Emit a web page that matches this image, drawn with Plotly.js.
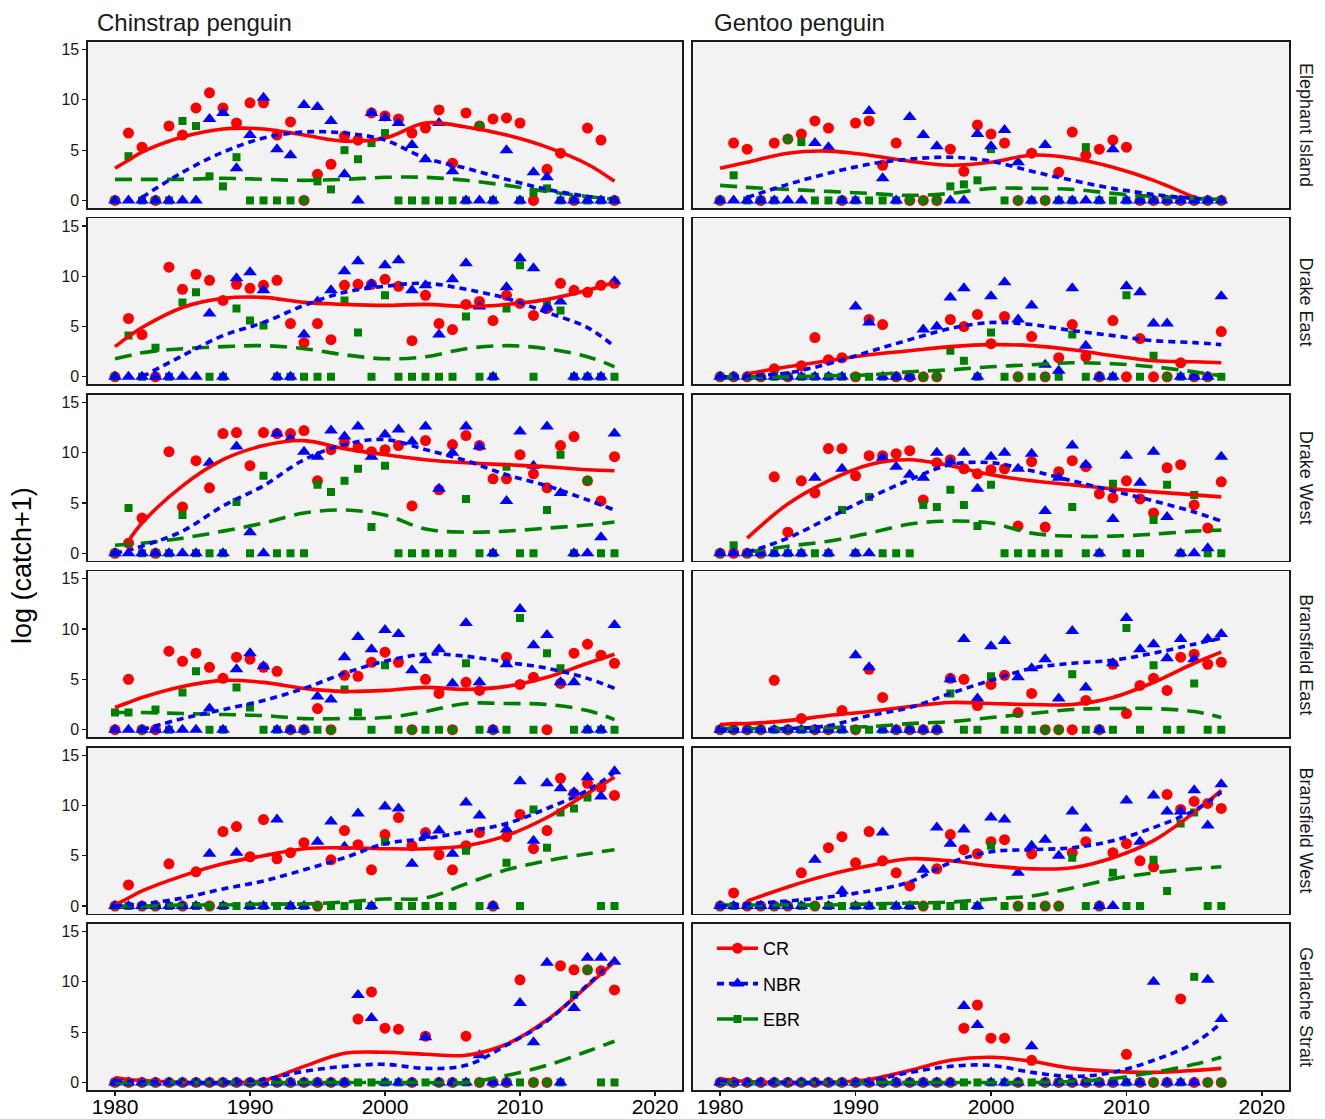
<!DOCTYPE html>
<html>
<head>
<meta charset="utf-8">
<script src="https://cdn.plot.ly/plotly-3.0.1.min.js"></script>
<style>
  html, body { margin: 0; padding: 0; background: #ffffff; }
  #chart { width: 1325px; height: 1119px; }
</style>
</head>
<body>
<div id="chart"></div>
<script>
// Survey years (one point per year and series)
const YEARS = [1980, 1981, 1982, 1983, 1984, 1985, 1986, 1987, 1988, 1989,
               1990, 1991, 1992, 1993, 1994, 1995, 1996, 1997, 1998, 1999,
               2000, 2001, 2002, 2003, 2004, 2005, 2006, 2007, 2008, 2009,
               2010, 2011, 2012, 2013, 2014, 2015, 2016, 2017];
// Years at which the smoothed trend curves are tabulated
const FIT_YEARS = [1980, 1981, 1982, 1985, 1988, 1991, 1994, 1997, 2000, 2003, 2006, 2009, 2012, 2015, 2017];

const SPECIES = ['Chinstrap penguin', 'Gentoo penguin'];
const REGIONS = ['Elephant Island', 'Drake East', 'Drake West', 'Bransfield East', 'Bransfield West', 'Gerlache Strait'];
const SERIES = ['CR', 'NBR', 'EBR'];
const X_TICKS = [1980, 1990, 2000, 2010, 2020];
const Y_TICKS = [0, 5, 10, 15];

// ---- Chinstrap penguin ----
const chinElephantCR  = [0, 6.7, 5.3, 0, 7.4, 6.5, 9.2, 10.7, 9.2, 7.7, 9.7, 9.7, 6.5, 7.8, 0, 2.6, 3.6, 6.4, 6.0, 8.7, 8.4, 8.1, 6.7, 7.2, 9.0, 3.7, 8.7, 7.4, 8.1, 8.2, 7.7, 0, 3.1, 4.7, 0, 7.2, 6.0, 0];
const chinElephantNBR = [0, 0, 0, 0, 0, 0, 0, 8.1, 8.7, 3.2, 6.5, 10.2, 5.1, 4.5, 9.5, 9.3, 7.9, 2.6, 0, 8.7, 8.2, 7.7, 5.5, 4.1, 7.7, 2.9, 0, 0, 0, 5.0, 0, 2.8, 2.3, 0, 0, 0, 0, 0];
const chinElephantEBR = [0, 4.4, 0, 0, 0, 7.9, 7.4, 2.4, 1.4, 4.3, 0, 0, 0, 0, 0, 1.9, 1.1, 5.0, 4.1, 5.7, 6.7, 0, 0, 0, 0, 0, 0, 7.4, 0, null, 0, 0.8, 1.2, 0, 0, 0, 0, 0];
const chinElephantCRFit  = [3.2, 4.0, 4.8, 6.3, 7.1, 7.1, 6.5, 5.9, 6.2, 7.7, 7.3, 6.5, 5.3, 3.6, 1.9];
const chinElephantNBRFit = [null, null, 0.3, 2.8, 4.8, 6.2, 6.8, 6.7, 6.0, 4.2, 3.2, 2.1, 1.1, 0.4, 0.1];
const chinElephantEBRFit = [2.1, 2.1, 2.1, 2.1, 2.2, 2.1, 2.0, 2.1, 2.3, 2.3, 2.0, 1.5, 0.9, 0.4, 0.1];

const chinDrakeECR  = [0, 5.8, 4.2, 0, 10.9, 8.7, 10.2, 9.6, 7.6, 9.2, 8.8, 9.1, 9.6, 5.3, 3.4, 5.3, 3.7, 9.1, 9.2, 9.2, 9.7, 9.0, 3.6, 8.1, 5.3, 4.7, 7.2, 7.5, 5.6, 8.1, 7.3, 6.1, 6.8, 9.3, 8.6, 8.4, 9.1, 9.3];
const chinDrakeENBR = [0, 0, 0, 0, 0, 0, 0, 6.3, 0, 9.8, 10.4, 8.6, 0, 0, 4.2, 7.5, 8.6, 10.5, 11.5, 9.2, 11.1, 11.6, 8.6, 9.1, 4.2, 9.7, 11.3, 7.0, 0, 8.9, 11.8, 10.8, 6.9, 7.5, 0, 0, 0, 9.5];
const chinDrakeEEBR = [0, 4.1, 0, 2.9, 0, 7.4, 8.4, 0, 0, 6.8, 5.6, 5.1, 0, 0, 0, 0, 0, 7.6, 4.4, 0, 8.1, 0, 0, 0, 0, 0, 6.0, 0, 0, 6.8, 11.1, 0, 7.4, 6.6, 0, 0, 0, 0];
const chinDrakeECRFit  = [3.0, 4.0, 4.9, 6.9, 7.8, 7.9, 7.4, 7.2, 7.1, 7.2, 7.0, 7.2, 7.7, 8.6, 9.4];
const chinDrakeENBRFit = [null, null, 0.0, 2.1, 4.1, 5.4, 7.1, 8.4, 9.0, 9.3, 8.7, 7.8, 6.4, 4.9, 3.0];
const chinDrakeEEBRFit = [1.8, 2.1, 2.4, 2.8, 3.0, 3.1, 2.8, 2.2, 1.8, 2.0, 2.8, 3.1, 2.8, 2.0, 1.0];

const chinDrakeWCR  = [0, 1.0, 3.5, 0, 10.1, 4.6, 9.2, 6.5, 11.9, 12.0, 8.7, 12.0, 11.9, 11.9, 12.2, 7.2, 10.3, 11.0, 10.5, 10.1, 10.3, 10.7, 4.7, 11.2, 6.3, 10.8, 11.7, 10.7, 7.4, 7.4, 9.8, 7.9, 6.5, 10.7, 11.6, 7.2, 5.2, 9.6];
const chinDrakeWNBR = [0, 0, 0, 0, 0, 0, 0, 9.0, 0, 10.6, 2.1, 0, 11.9, 11.4, 10.1, 9.6, 12.2, 11.6, 12.6, 9.6, 11.8, 12.3, 11.1, 12.6, 6.4, 10.0, 12.6, 10.6, 0, 5.2, 12.1, 8.7, 12.6, 6.0, 0, 0, 1.6, 11.9];
const chinDrakeWEBR = [0, 4.5, 0, 0, 0, 3.8, 0, 0, 0, 5.1, 0, 7.7, 0, 0, 0, 6.8, 6.1, 7.2, 8.4, 2.6, 8.7, 0, 0, 0, 0, 0, 5.4, 0, 0, 8.6, 0, 0, 4.3, 9.8, 0, 7.2, 0, 0];
const chinDrakeWCRFit  = [null, 1.2, 3.0, 6.7, 9.3, 10.7, 11.2, 10.4, 9.8, 9.3, 9.0, 8.8, 8.6, 8.3, 8.2];
const chinDrakeWNBRFit = [0.0, 0.3, 0.7, 2.2, 4.7, 6.7, 9.3, 10.8, 11.3, 10.3, 9.2, 7.8, 6.7, 5.3, 4.3];
const chinDrakeWEBRFit = [0.8, 0.9, 1.0, 1.5, 2.2, 3.0, 4.0, 4.3, 3.8, 2.4, 2.1, 2.2, 2.5, 2.8, 3.1];

const chinBransECR  = [0, 5.0, 0, 0, 7.8, 6.8, 7.6, 6.2, 5.1, 7.2, 7.0, 6.2, 5.8, 0, 0, 2.1, 0, 5.4, 5.3, 6.7, 7.7, 6.7, 0, 5.0, 3.6, 0, 4.7, 3.9, 0, 7.2, 4.5, 5.2, 0, 4.6, 7.6, 8.5, 7.4, 6.6];
const chinBransENBR = [0, 0, 0, 0, 0, 0, 0, 2.1, 0, 6.0, 7.6, 6.3, 0, 0, 0, 3.3, 3.0, 7.2, 9.2, 8.0, 9.9, 9.5, 5.9, 6.9, 8.0, 4.6, 10.6, 4.7, 0, 6.5, 12.0, 8.4, 9.4, 4.7, 4.7, 0, 0, 10.4];
const chinBransEEBR = [1.7, 1.7, 0, 2.0, 0, 3.7, 5.8, 0, 0, 4.2, 2.2, 0, 0, 0, 0, 0, 0, 4.0, 1.7, 0, 6.4, 0, 0, 0, 0, 0, 6.6, 0, 0, 0, 11.1, 0, 7.6, 6.1, 0, 0, 0, 0];
const chinBransECRFit  = [2.2, 2.7, 3.2, 4.3, 4.9, 4.7, 4.1, 3.8, 3.9, 4.2, 4.0, 4.3, 5.2, 6.6, 7.5];
const chinBransENBRFit = [null, null, 0.0, 1.1, 2.0, 2.9, 4.1, 5.6, 6.8, 7.5, 7.3, 6.7, 6.1, 5.1, 4.1];
const chinBransEEBRFit = [1.7, 1.7, 1.7, 1.6, 1.5, 1.4, 1.1, 1.1, 1.2, 1.8, 2.6, 2.6, 2.5, 1.9, 1.0];

const chinBransWCR  = [0, 2.1, 0, 0, 4.2, 0, 3.4, 0, 7.4, 7.9, 4.9, 8.6, 4.7, 5.3, 6.3, 0, 4.6, 7.5, 6.1, 3.6, 7.1, 8.8, 6.0, 7.3, 5.1, 3.6, 6.0, 7.3, 0, 6.9, 9.1, 5.7, 7.5, 12.7, 11.2, 12.2, 11.8, 11.0];
const chinBransWNBR = [0, 0, 0, 0, 0, 0, 0, 5.2, 0, 5.3, 0, 0, 8.6, 0, 0, 6.4, 8.4, 5.9, 9.2, 0, 9.9, 9.7, 4.2, 7.0, 7.5, 5.2, 10.3, 9.0, 0, 7.6, 12.4, 6.5, 12.2, 11.7, 11.3, 12.8, 10.9, 13.4];
const chinBransWEBR = [0, 0, 0, 0, 0, 0, 0, 0, 0, 0, 0, 0, 0, 0, 0, 0, 0, 0, 0, 0, 6.4, 0, 0, 0, 0, 0, 5.5, 0, 0, 4.3, 0, 9.6, 5.8, 9.3, 9.7, 10.8, 0, 0];
const chinBransWCRFit  = [0.1, 0.8, 1.5, 3.0, 4.2, 5.0, 5.7, 5.8, 5.7, 5.7, 6.0, 7.0, 8.8, 11.2, 12.8];
const chinBransWNBRFit = [0.0, 0.1, 0.2, 0.8, 1.7, 2.5, 3.6, 4.8, 6.2, 6.7, 7.4, 8.2, 9.7, 11.5, 13.3];
const chinBransWEBRFit = [0.0, 0.0, 0.0, 0.1, 0.1, 0.2, 0.2, 0.4, 0.7, 0.8, 2.2, 3.6, 4.5, 5.2, 5.6];

const chinGerlacheCR  = [0, 0, 0, 0, 0, 0, 0, 0, 0, 0, 0, 0, 0, 0, 0, 0, 0, 0, 6.3, 9.0, 5.4, 5.3, 0, 4.6, 0, 0, 4.6, 0, 0, 0, 10.2, 0, 0, 11.6, 11.2, 11.2, 11.1, 9.2];
const chinGerlacheNBR = [0, 0, 0, 0, 0, 0, 0, 0, 0, 0, 0, 0, 0, 0, 0, 0, 0, 0, 8.7, 6.4, 0, 0, 0, 4.5, 0, 0, 0, 2.7, 0, 0, 7.9, 4.0, 11.9, 0, 7.4, 12.4, 12.4, 12.0];
const chinGerlacheEBR = [0, 0, 0, 0, 0, 0, 0, 0, 0, 0, 0, 0, 0, 0, 0, 0, 0, 0, 0, 0, 0, 0, 0, 0, 0, 0, 0, 0, 0, 0, 0, 0, 0, 0, 8.7, 11.2, 0, 0];
const chinGerlacheCRFit  = [0.5, 0.3, 0.2, 0.0, 0.0, 0.2, 1.6, 2.9, 3.0, 2.8, 2.7, 3.8, 6.2, 9.6, 12.0];
const chinGerlacheNBRFit = [0.2, 0.15, 0.1, 0.0, 0.0, 0.3, 1.1, 1.6, 1.8, 1.4, 1.7, 3.7, 6.1, 9.7, 12.2];
const chinGerlacheEBRFit = [0.0, 0.0, 0.0, 0.0, 0.0, 0.0, 0.0, 0.0, 0.0, 0.0, 0.0, 0.7, 1.7, 3.1, 4.1];

// ---- Gentoo penguin ----
const gentElephantCR  = [0, 5.7, 5.1, 0, 5.7, 6.1, 6.6, 7.9, 7.2, 0, 7.7, 7.9, 3.5, 5.7, 0, 0, 0, 5.1, 2.9, 7.5, 6.6, 5.7, 0, 4.7, 0, 2.8, 6.8, 4.5, 5.1, 6.0, 5.3, 0, 0, 0, 0, 0, 0, 0];
const gentElephantNBR = [0, 0, 0, 0, 0, 0, 0, 5.7, 5.3, 0, 0, 8.9, 2.2, 0, 8.3, 6.5, 5.4, 0, 0, 6.6, 5.4, 7.0, 3.8, 0, 5.5, 0, 0, 0, 0, 5.1, 0, 0, 0, 0, 0, 0, 0, 0];
const gentElephantEBR = [0, 2.5, 0, 0, 0, 6.1, 5.8, 0, 0, 0, 0, 0, 0, 0, 0, 0, 0, 1.4, 1.6, 2.0, 5.1, 0, 0, 0, 0, 0, 0, 5.3, 0, 0, 0, 0, 0, 0, 0, 0, 0, 0];
const gentElephantCRFit  = [3.2, 3.5, 3.8, 4.7, 4.9, 4.5, 3.9, 3.5, 3.8, 4.5, 4.2, 3.3, 2.0, 0.3, null];
const gentElephantNBRFit = [null, null, 0.3, 1.6, 2.7, 3.6, 4.1, 4.3, 3.9, 2.9, 2.0, 1.2, 0.6, 0.2, 0.0];
const gentElephantEBRFit = [1.5, 1.4, 1.3, 1.1, 0.9, 0.7, 0.5, 0.7, 1.2, 1.2, 1.1, 0.7, 0.4, 0.2, 0.1];

const gentDrakeECR  = [0, 0, 0, 0, 0.8, 0, 1.1, 3.9, 1.7, 1.9, 0, 5.7, 5.2, 0, 0, 0, 0, 5.7, 5.0, 6.2, 3.3, 6.0, 0, 4.0, 0, 1.9, 5.2, 2.0, 0, 5.6, 0, 3.8, 0, 0, 1.4, 0, 0, 4.5];
const gentDrakeENBR = [0, 0, 0, 0, 0, 0, 0, 0, 0, 0, 7.0, 5.4, 0, 0, 0, 4.7, 5.0, 7.9, 8.8, 0, 8.0, 9.4, 5.7, 7.1, 1.2, 0.6, 8.8, 3.1, 0, 0, 9.0, 8.4, 5.3, 5.3, 0, 0, 0, 8.0];
const gentDrakeEEBR = [0, 0, 0, 0, 0, 0, 0, 0, 0, 0, 0, 0, 0, 0, 0, 0, 0, 2.6, 1.6, 0, 4.4, 0, 0, 0, 0, 0, 4.2, 0, 0, 0, 8.1, 0, 2.1, 0, 0, 0, 0, 0];
const gentDrakeECRFit  = [null, null, 0.3, 1.0, 1.6, 2.2, 2.6, 3.0, 3.2, 3.1, 2.7, 2.1, 1.6, 1.5, 1.4];
const gentDrakeENBRFit = [0.0, 0.0, 0.1, 0.4, 1.3, 2.5, 3.7, 4.8, 5.4, 5.2, 4.6, 4.1, 3.6, 3.4, 3.2];
const gentDrakeEEBRFit = [0.0, 0.0, 0.0, 0.0, 0.1, 0.2, 0.5, 0.7, 1.0, 1.2, 1.4, 1.3, 1.0, 0.5, 0.1];

const gentDrakeWCR  = [0, 0, 0, 0, 7.6, 2.1, 7.2, 6.0, 10.4, 10.4, 7.7, 9.7, 9.7, 9.9, 10.2, 5.3, 9.0, 9.3, 8.4, 7.9, 8.3, 8.4, 2.7, 9.1, 2.6, 8.1, 9.2, 8.6, 5.9, 5.5, 7.2, 5.4, 4.0, 8.5, 8.8, 4.8, 2.5, 7.1];
const gentDrakeWNBR = [0, 0, 0, 0, 0, 0, 0, 7.5, 0, 8.4, 0, 0, 9.5, 8.6, 7.8, 7.5, 10.0, 9.1, 10.0, 6.4, 9.6, 10.0, 8.4, 9.9, 4.2, 7.5, 10.7, 8.8, 0, 3.4, 9.7, 7.0, 10.1, 3.6, 0, 0, 0.5, 9.6];
const gentDrakeWEBR = [0, 0.8, 0, 0, 0, 0, 0, 0, 0, 4.3, 0, 5.6, 0, 0, 0, 4.8, 4.6, 6.3, 4.8, 2.7, 6.8, 0, 0, 0, 0, 0, 4.6, 0, 0, 6.9, 0, 0, 3.3, 6.8, 0, 5.8, 0, 0];
const gentDrakeWCRFit  = [null, null, 1.5, 4.9, 7.2, 8.8, 9.3, 8.7, 7.8, 7.2, 6.8, 6.4, 6.1, 5.8, 5.6];
const gentDrakeWNBRFit = [null, null, 0.1, 1.5, 3.5, 5.5, 7.3, 8.8, 9.0, 8.2, 7.2, 6.2, 5.2, 4.1, 3.2];
const gentDrakeWEBRFit = [null, null, 0.1, 0.7, 1.2, 2.0, 2.9, 3.2, 3.0, 2.0, 1.7, 1.7, 1.9, 2.2, 2.3];

const gentBransECR  = [0, 0, 0, 0, 4.9, 0, 1.1, 0, 0, 1.9, 0, 6.0, 3.2, 0, 0, 0, 0, 5.1, 5.0, 2.4, 4.5, 5.4, 1.7, 3.6, 0, 0, 0, 2.9, 0, 6.5, 1.6, 4.4, 5.1, 3.9, 7.2, 7.5, 6.5, 6.7];
const gentBransENBR = [0, 0, 0, 0, 0, 0, 0, 0, 0, 0, 7.4, 6.2, 0, 0, 0, 0, 0, 5.0, 9.0, 3.1, 8.3, 8.8, 5.2, 6.1, 7.0, 3.1, 9.8, 4.2, 0, 6.6, 11.1, 8.0, 8.5, 7.1, 9.0, 7.0, 9.0, 9.5];
const gentBransEEBR = [0, 0, 0, 0, 0, 0, 0, 0, 0, 0, 0, 0, 0, 0, 0, 0, 0, 3.6, 0, 0, 5.3, 0, 0, 0, 0, 0, 5.5, 0, 0, 0, 10.1, 0, 6.4, 0, 0, 4.6, 0, 0];
const gentBransECRFit  = [0.5, 0.6, 0.6, 0.9, 1.4, 1.8, 2.3, 2.7, 2.6, 2.5, 2.5, 3.2, 4.7, 6.6, 7.7];
const gentBransENBRFit = [0.0, 0.0, 0.0, 0.1, 0.4, 1.4, 2.2, 3.6, 4.9, 6.1, 6.6, 6.9, 7.6, 8.5, 9.1];
const gentBransEEBRFit = [0.1, 0.1, 0.1, 0.1, 0.2, 0.3, 0.6, 0.8, 1.2, 1.6, 2.0, 2.1, 2.1, 1.8, 1.2];

const gentBransWCR  = [0, 1.3, 0, 0, 0, 0, 3.3, 0, 5.8, 6.9, 4.3, 7.4, 4.5, 3.3, 2.0, 0, 3.7, 7.1, 5.6, 5.2, 6.4, 6.6, 0, 5.2, 0, 0, 5.3, 6.4, 0, 5.3, 6.2, 4.5, 3.9, 11.1, 9.6, 10.4, 10.2, 9.7];
const gentBransWNBR = [0, 0, 0, 0, 0, 0, 0, 4.6, 0, 1.5, 0, 0, 7.3, 0, 0, 3.6, 7.8, 6.2, 7.6, 0, 8.8, 8.6, 3.3, 6.0, 6.6, 5.0, 9.4, 7.7, 0, 0, 10.5, 6.4, 11.0, 9.4, 9.4, 11.5, 8.0, 12.1];
const gentBransWEBR = [0, 0, 0, 0, 0, 0, 0, 0, 0, 0, 0, 0, 0, 0, 0, 0, 0, 0, 0, 0, 6.0, 0, 0, 0, 0, 0, 4.8, 0, 0, 3.3, 0, 0, 4.6, 1.5, 8.2, 9.3, 0, 0];
const gentBransWCRFit  = [null, null, 0.5, 1.9, 3.1, 4.0, 4.7, 4.5, 4.0, 3.7, 3.8, 4.8, 6.5, 9.3, 11.5];
const gentBransWNBRFit = [0.0, 0.1, 0.2, 0.5, 0.9, 1.5, 2.4, 4.3, 5.4, 5.6, 5.8, 6.5, 7.8, 9.5, 11.3];
const gentBransWEBRFit = [0.1, 0.1, 0.1, 0.1, 0.1, 0.2, 0.3, 0.4, 0.7, 1.0, 1.8, 2.7, 3.3, 3.7, 3.9];

const gentGerlacheCR  = [0, 0, 0, 0, 0, 0, 0, 0, 0, 0, 0, 0, 0, 0, 0, 0, 0, 0, 5.4, 7.7, 4.4, 4.4, 0, 2.2, 0, 0, 0, 0, 0, 0, 2.8, 0, 0, 0, 8.3, 0, 0, 0];
const gentGerlacheNBR = [0, 0, 0, 0, 0, 0, 0, 0, 0, 0, 0, 0, 0, 0, 0, 0, 0, 0, 7.6, 5.7, 0, 0, 0, 3.6, 0, 0, 0, 0, 0, 0, 0, 0, 10.0, 0, 0, 0, 10.2, 6.3];
const gentGerlacheEBR = [0, 0, 0, 0, 0, 0, 0, 0, 0, 0, 0, 0, 0, 0, 0, 0, 0, 0, 0, 0, 0, 0, 0, 0, 0, 0, 0, 0, 0, 0, 0, 0, 0, 0, 0, 10.5, 0, 0];
const gentGerlacheCRFit  = [0.4, 0.2, 0.1, 0.0, 0.0, 0.3, 1.2, 2.2, 2.5, 2.1, 1.4, 1.1, 1.0, 1.2, 1.4];
const gentGerlacheNBRFit = [0.2, 0.1, 0.1, 0.0, 0.0, 0.2, 1.0, 1.6, 1.7, 1.0, 0.6, 1.0, 2.2, 3.9, 5.9];
const gentGerlacheEBRFit = [0.0, 0.0, 0.0, 0.0, 0.0, 0.0, 0.0, 0.0, 0.0, 0.0, 0.1, 0.4, 1.0, 1.8, 2.5];

// Facet table: one entry per (region row, species column)
const PANELS = [
  { row: 0, col: 0, CR: chinElephantCR, NBR: chinElephantNBR, EBR: chinElephantEBR, CRFit: chinElephantCRFit, NBRFit: chinElephantNBRFit, EBRFit: chinElephantEBRFit },
  { row: 0, col: 1, CR: gentElephantCR, NBR: gentElephantNBR, EBR: gentElephantEBR, CRFit: gentElephantCRFit, NBRFit: gentElephantNBRFit, EBRFit: gentElephantEBRFit },
  { row: 1, col: 0, CR: chinDrakeECR, NBR: chinDrakeENBR, EBR: chinDrakeEEBR, CRFit: chinDrakeECRFit, NBRFit: chinDrakeENBRFit, EBRFit: chinDrakeEEBRFit },
  { row: 1, col: 1, CR: gentDrakeECR, NBR: gentDrakeENBR, EBR: gentDrakeEEBR, CRFit: gentDrakeECRFit, NBRFit: gentDrakeENBRFit, EBRFit: gentDrakeEEBRFit },
  { row: 2, col: 0, CR: chinDrakeWCR, NBR: chinDrakeWNBR, EBR: chinDrakeWEBR, CRFit: chinDrakeWCRFit, NBRFit: chinDrakeWNBRFit, EBRFit: chinDrakeWEBRFit },
  { row: 2, col: 1, CR: gentDrakeWCR, NBR: gentDrakeWNBR, EBR: gentDrakeWEBR, CRFit: gentDrakeWCRFit, NBRFit: gentDrakeWNBRFit, EBRFit: gentDrakeWEBRFit },
  { row: 3, col: 0, CR: chinBransECR, NBR: chinBransENBR, EBR: chinBransEEBR, CRFit: chinBransECRFit, NBRFit: chinBransENBRFit, EBRFit: chinBransEEBRFit },
  { row: 3, col: 1, CR: gentBransECR, NBR: gentBransENBR, EBR: gentBransEEBR, CRFit: gentBransECRFit, NBRFit: gentBransENBRFit, EBRFit: gentBransEEBRFit },
  { row: 4, col: 0, CR: chinBransWCR, NBR: chinBransWNBR, EBR: chinBransWEBR, CRFit: chinBransWCRFit, NBRFit: chinBransWNBRFit, EBRFit: chinBransWEBRFit },
  { row: 4, col: 1, CR: gentBransWCR, NBR: gentBransWNBR, EBR: gentBransWEBR, CRFit: gentBransWCRFit, NBRFit: gentBransWNBRFit, EBRFit: gentBransWEBRFit },
  { row: 5, col: 0, CR: chinGerlacheCR, NBR: chinGerlacheNBR, EBR: chinGerlacheEBR, CRFit: chinGerlacheCRFit, NBRFit: chinGerlacheNBRFit, EBRFit: chinGerlacheEBRFit },
  { row: 5, col: 1, CR: gentGerlacheCR, NBR: gentGerlacheNBR, EBR: gentGerlacheEBR, CRFit: gentGerlacheCRFit, NBRFit: gentGerlacheNBRFit, EBRFit: gentGerlacheEBRFit }
];

// Per-series appearance
const STYLE = {
  CR:  { color: '#FF0000', symbol: 'circle',      size: 11, dash: 'solid' },
  NBR: { color: '#0000FF', symbol: 'triangle-up', size: 12, dash: '7px,5px' },
  EBR: { color: '#008000', symbol: 'square',      size: 8,  dash: '17px,9px' }
};
const DRAW_ORDER = ['CR', 'EBR', 'NBR'];

// Page geometry (pixels)
const W = 1325, H = 1119;
const M = { l: 88, r: 36, t: 42, b: 29 };
const PW = W - M.l - M.r, PH = H - M.t - M.b;
const COL_PX = [[88, 682], [693, 1289]];
const HEADER_X = [95, 712];
const ROW_TOP0 = 42, ROW_STEP = 176.4, ROW_H = 166;

const FONT = 'Liberation Sans, Arial, Helvetica, sans-serif';
const px2x = px => (px - M.l) / PW;
const px2y = py => (M.t + PH - py) / PH;

const traces = [];
const layout = {
  width: W, height: H,
  margin: M,
  paper_bgcolor: '#FFFFFF',
  plot_bgcolor: '#F2F2F2',
  font: { family: FONT, color: '#000000' },
  showlegend: true,
  legend: {
    x: px2x(712), y: px2y(930), xanchor: 'left', yanchor: 'top',
    bgcolor: 'rgba(0,0,0,0)', borderwidth: 0,
    font: { family: FONT, size: 18, color: '#000000' },
    itemwidth: 41, tracegroupgap: 9, traceorder: 'grouped'
  },
  annotations: []
};

PANELS.forEach((p, i) => {
  const n = i + 1;
  const xa = 'xaxis' + (n === 1 ? '' : n), ya = 'yaxis' + (n === 1 ? '' : n);
  const xr = 'x' + (n === 1 ? '' : n), yr = 'y' + (n === 1 ? '' : n);
  const top = ROW_TOP0 + p.row * ROW_STEP, bot = top + ROW_H;
  const [lp, rp] = COL_PX[p.col];
  const isBottom = p.row === REGIONS.length - 1;
  const isLeft = p.col === 0;

  layout[xa] = {
    domain: [px2x(lp), px2x(rp)],
    anchor: yr, range: [1978, 2022],
    showgrid: false, zeroline: false,
    showline: true, mirror: true, linecolor: '#1A1A1A', linewidth: 1.6,
    tickvals: X_TICKS, ticks: isBottom ? 'outside' : '', ticklen: 4, tickwidth: 1.2, tickcolor: '#1A1A1A',
    showticklabels: isBottom, ticklabelstandoff: -7,
    tickfont: { family: FONT, size: 21, color: '#000000' }
  };
  layout[ya] = {
    domain: [px2y(bot), px2y(top)],
    anchor: xr, range: [-0.75, 15.75],
    showgrid: false, zeroline: false,
    showline: true, mirror: true, linecolor: '#1A1A1A', linewidth: 1.6,
    tickvals: Y_TICKS, ticks: isLeft ? 'outside' : '', ticklen: 4, tickwidth: 1.2, tickcolor: '#1A1A1A',
    showticklabels: isLeft, tickfont: { family: FONT, size: 16, color: '#1A1A1A' }
  };

  // observed values
  DRAW_ORDER.forEach(s => {
    const st = STYLE[s];
    traces.push({
      type: 'scatter', mode: 'markers', x: YEARS, y: p[s], xaxis: xr, yaxis: yr,
      showlegend: false, hoverinfo: 'x+y', name: s,
      marker: { color: st.color, symbol: st.symbol, size: st.size, line: { width: 0 } }
    });
  });
  // smoothed trends
  DRAW_ORDER.forEach(s => {
    const st = STYLE[s];
    traces.push({
      type: 'scatter', mode: 'lines', x: FIT_YEARS, y: p[s + 'Fit'], xaxis: xr, yaxis: yr,
      showlegend: false, hoverinfo: 'skip', name: s, connectgaps: false,
      line: { color: st.color, width: 3.6, dash: st.dash, shape: 'spline', smoothing: 1 }
    });
  });

  // region strip label on the right of each row
  if (p.col === 1) {
    layout.annotations.push({
      text: REGIONS[p.row], xref: 'paper', yref: 'paper',
      x: px2x(1306), y: px2y(top + ROW_H / 2),
      xanchor: 'center', yanchor: 'middle', textangle: 90, showarrow: false,
      font: { family: FONT, size: 18, color: '#1A1A1A' }
    });
  }
  // species header above each column
  if (p.row === 0) {
    layout.annotations.push({
      text: SPECIES[p.col], xref: 'paper', yref: 'paper',
      x: px2x(HEADER_X[p.col]), y: px2y(23),
      xanchor: 'left', yanchor: 'middle', showarrow: false,
      font: { family: FONT, size: 24, color: '#1A1A1A' }
    });
  }
});

// shared y-axis title
layout.annotations.push({
  text: 'log (catch+1)', xref: 'paper', yref: 'paper',
  x: px2x(22), y: px2y(566),
  xanchor: 'center', yanchor: 'middle', textangle: -90, showarrow: false,
  font: { family: FONT, size: 27, color: '#000000' }
});

// legend entries (line + marker key), placed in the last panel
SERIES.forEach(s => {
  const st = STYLE[s];
  traces.push({
    type: 'scatter', mode: 'lines+markers', x: [null], y: [null], xaxis: 'x12', yaxis: 'y12',
    name: s, legendgroup: s, showlegend: true, hoverinfo: 'skip',
    marker: { color: st.color, symbol: st.symbol, size: st.size },
    line: { color: st.color, width: 3.6, dash: st.dash }
  });
});

Plotly.newPlot('chart', traces, layout, { staticPlot: true, displayModeBar: false });
</script>
</body>
</html>
